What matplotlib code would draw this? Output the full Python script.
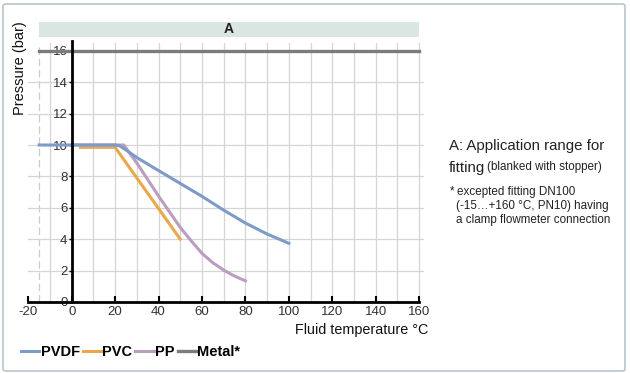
import matplotlib
matplotlib.use('Agg')
import matplotlib.pyplot as plt
from matplotlib.patches import Rectangle, FancyBboxPatch

plt.rcParams['font.family'] = ['Liberation Sans', 'DejaVu Sans']

# 数据
pvdf_t = [-15, 20, 22, 25, 30, 40, 50, 60, 70, 80, 90, 100]
pvdf_p = [10, 10, 9.95, 9.68, 9.2, 8.37, 7.55, 6.73, 5.85, 5.03, 4.33, 3.74]
pvc_t = [4, 20, 30, 40, 50]
pvc_p = [9.85, 9.85, 7.9, 5.95, 4.0]
pp_t = [0, 24, 30, 40, 50, 55, 60, 65, 70, 75, 80]
pp_p = [10, 10, 8.85, 6.75, 4.75, 3.9, 3.1, 2.5, 2.03, 1.65, 1.35]
metal_t = [-15, 160]
metal_p = [16, 16]

x_ticks = [-20, 0, 20, 40, 60, 80, 100, 120, 140, 160]
y_ticks = [0, 2, 4, 6, 8, 10, 12, 14, 16]
band_range = (-15, 160)
band_label = 'A'

W, H = 630, 373
fig = plt.figure(figsize=(W / 100, H / 100), dpi=100)

# 外框
fig.patches.append(FancyBboxPatch((3 / W, 2 / H), 622 / W, 367 / H,
                                  boxstyle='round,pad=0,rounding_size=0.005',
                                  transform=fig.transFigure, fill=False,
                                  edgecolor='#b9c5cd', linewidth=1.2))

ax = fig.add_axes([28.3 / W, (H - 302) / H, 401.6 / W, 282.6 / H])
ax.set_xlim(-20, 165)
ax.set_ylim(0, 18)

# 网格
for x in range(-10, 170, 10):
    if x == 0:
        continue
    ax.plot([x, x], [0, 16.5], color='#d5d5d5', lw=0.9, zorder=1)
ax.plot([-15, -15], [0, 16.5], color='#cccccc', lw=0.9, ls=(0, (6, 3)), zorder=1)
for y in y_ticks[1:-1]:
    ax.plot([-20, 162], [y, y], color='#d5d5d5', lw=0.9, zorder=1)

# 应用范围 A
ax.add_patch(Rectangle((band_range[0], 16.9), band_range[1] - band_range[0], 0.95,
                       facecolor='#dae6e0', edgecolor='none', zorder=1))
ax.text(sum(band_range) / 2, 17.38, band_label, ha='center', va='center',
        fontsize=10, fontweight='bold', color='#222222')

# 曲线
l_metal, = ax.plot(metal_t, metal_p, color='#7c7c7c', lw=2.4, zorder=3, label='Metal*')
l_pvc, = ax.plot(pvc_t, pvc_p, color='#e9a84a', lw=2.2, zorder=4, label='PVC')
l_pp, = ax.plot(pp_t, pp_p, color='#bb9dc0', lw=2.2, zorder=5, label='PP')
l_pvdf, = ax.plot(pvdf_t, pvdf_p, color='#7c9bc7', lw=2.2, zorder=6, label='PVDF')

# 坐标轴
for s in ['top', 'right']:
    ax.spines[s].set_visible(False)
ax.spines['bottom'].set_bounds(-20, 160)
ax.spines['bottom'].set_linewidth(2)
ax.spines['left'].set_position(('data', 0))
ax.spines['left'].set_bounds(0, 16.6)
ax.spines['left'].set_linewidth(2)
ax.spines['left'].set_zorder(7)

ax.set_xticks(x_ticks)
ax.set_xticklabels([str(v) for v in x_ticks])
ax.set_yticks(y_ticks)
ax.set_yticklabels([str(v) for v in y_ticks])
ax.tick_params(axis='x', direction='in', length=4.5, width=1.5, pad=3,
               labelsize=9.5, labelcolor='#333333')
ax.tick_params(axis='y', direction='out', length=2, width=1, pad=1,
               labelsize=9.5, labelcolor='#333333')
ax.patch.set_alpha(0)

# 轴标签
fig.text(20 / W, 1 - 68 / H, 'Pressure (bar)', rotation=90, ha='center', va='center',
         fontsize=10.5, color='#111111')
fig.text(428 / W, 1 - 330 / H, 'Fluid temperature °C', ha='right', va='center',
         fontsize=10.4, color='#111111')

# 图例
fig.legend(handles=[l_pvdf, l_pvc, l_pp, l_metal], loc='center left',
           bbox_to_anchor=(21 / W, 1 - 352 / H), ncol=4, frameon=False,
           handlelength=1.25, handletextpad=0.1, columnspacing=0.2,
           borderpad=0, borderaxespad=0, prop={'weight': 'bold', 'size': 10.5})

# 右侧说明
fig.text(449 / W, 1 - 146 / H, 'A: Application range for', ha='left', va='center',
         fontsize=10.8, color='#222222')
fig.text(449 / W, 1 - 168 / H, 'fitting', ha='left', va='center',
         fontsize=10.8, color='#222222')
fig.text(487 / W, 1 - 167 / H, '(blanked with stopper)', ha='left', va='center',
         fontsize=8.4, color='#222222')
fig.text(450 / W, 1 - 191 / H, '*', ha='left', va='center', fontsize=8.4, color='#222222')
fig.text(457 / W, 1 - 192 / H, 'excepted fitting DN100', ha='left', va='center',
         fontsize=8.4, color='#222222')
fig.text(456 / W, 1 - 206 / H, '(-15…+160 °C, PN10) having', ha='left', va='center',
         fontsize=8.4, color='#222222')
fig.text(456 / W, 1 - 220 / H, 'a clamp flowmeter connection', ha='left', va='center',
         fontsize=8.4, color='#222222')

fig.savefig('out.png', dpi=100)
